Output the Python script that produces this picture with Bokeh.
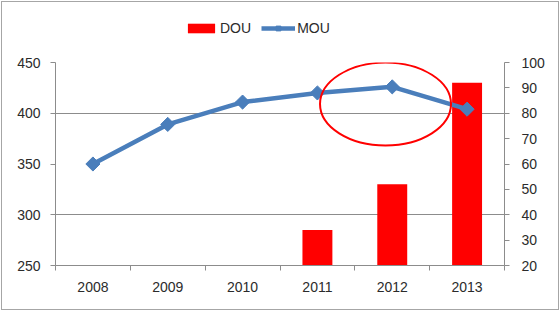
from bokeh.plotting import figure
from bokeh.layouts import column
from bokeh.models import (Range1d, LinearAxis, FixedTicker, Legend, LegendItem)
from bokeh.embed import file_html
from bokeh.resources import INLINE
import math

# ---- data ----
years = ["2008", "2009", "2010", "2011", "2012", "2013"]
mou = [350, 389, 411, 420, 426, 404]          # left axis (line)
dou = [None, None, None, 34, 52, 92]          # right axis (bars)
left_ticks = [250, 300, 350, 400, 450]
right_ticks = [20, 30, 40, 50, 60, 70, 80, 90, 100]
highlight_year = "2012"

FONT = "Liberation Sans"
TXT = "#2b2b2b"
AX = "#8c8c8c"
RED = "#ff0000"
BLUE = "#4a7ebb"

xs = [i + 0.5 for i in range(len(years))]

# ---- main chart ----
p = figure(width=556, height=267, output_backend="svg", toolbar_location=None,
           x_range=Range1d(0, len(years)), y_range=Range1d(250, 450),
           min_border_left=53, min_border_right=54, min_border_top=20, min_border_bottom=44)
p.outline_line_color = None
p.background_fill_color = "white"
p.border_fill_color = "white"
p.extra_y_ranges = {"dou": Range1d(20, 100)}

xa = p.xaxis[0]
xa.ticker = FixedTicker(ticks=xs, minor_ticks=list(range(len(years) + 1)))
xa.major_label_overrides = {x: y for x, y in zip(xs, years)}
xa.major_tick_out = 0
xa.major_tick_in = 0
xa.minor_tick_out = 5
xa.minor_tick_in = 0
xa.minor_tick_line_color = AX
xa.axis_line_color = AX
xa.major_label_standoff = 11

ya = p.yaxis[0]
ya.ticker = FixedTicker(ticks=left_ticks)
ya.major_tick_out = 5
ya.major_tick_in = 0
ya.minor_tick_line_color = None
ya.axis_line_color = AX
ya.major_tick_line_color = AX
ya.major_label_standoff = 10

ra = LinearAxis(y_range_name="dou", ticker=FixedTicker(ticks=right_ticks))
ra.major_tick_out = 5
ra.major_tick_in = 0
ra.minor_tick_line_color = None
ra.axis_line_color = AX
ra.major_tick_line_color = AX
ra.major_label_standoff = 12
p.add_layout(ra, "right")

for a in (xa, ya, ra):
    a.major_label_text_font = FONT
    a.major_label_text_font_size = "14px"
    a.major_label_text_color = TXT

p.xgrid.grid_line_color = None
p.ygrid[0].ticker = FixedTicker(ticks=[300, 400, 450])
p.ygrid.grid_line_color = AX
p.ygrid.grid_line_width = 1

bx = [x for x, d in zip(xs, dou) if d is not None]
bt = [d for d in dou if d is not None]
p.vbar(x=bx, top=bt, bottom=20, width=0.4, y_range_name="dou",
       fill_color=RED, line_color=None)
p.line(xs, mou, line_color=BLUE, line_width=4.5)
p.scatter(xs, mou, marker="square", angle=math.pi / 4, size=10,
          fill_color=BLUE, line_color=BLUE)

hi = years.index(highlight_year)
p.ellipse(x=[xs[hi] - 0.09], y=[mou[hi] - 17], width=131, height=83,
          width_units="screen", height_units="screen",
          fill_color=None, line_color=RED, line_width=2)

# ---- legend strip (keys only; its proxy glyphs sit outside the visible range) ----
lg = figure(width=556, height=40, output_backend="svg", toolbar_location=None,
            x_range=Range1d(0, 1), y_range=Range1d(0, 1),
            min_border_left=0, min_border_right=0, min_border_top=0, min_border_bottom=0)
lg.axis.visible = False
lg.grid.visible = False
lg.outline_line_color = None
lg.border_fill_color = "white"
off = [-10]
r_bar = lg.vbar(x=off, top=off, bottom=off, width=0.4, fill_color=RED, line_color=None)
r_line = lg.line(x=off, y=off, line_color=BLUE, line_width=4.5)
r_mk = lg.scatter(x=off, y=off, marker="square", angle=math.pi / 4, size=11,
                  fill_color=BLUE, line_color=BLUE)
legend = Legend(items=[LegendItem(label="DOU", renderers=[r_bar]),
                       LegendItem(label="MOU", renderers=[r_line, r_mk])],
                orientation="horizontal", location=(129, 6),
                glyph_width=34, glyph_height=12, label_standoff=2, spacing=10,
                padding=0, margin=0, border_line_color=None,
                background_fill_alpha=0,
                label_text_font=FONT, label_text_font_size="14px",
                label_text_color=TXT)
lg.add_layout(legend, "center")

layout = column(lg, p, spacing=0)
layout.styles = {"border": "1px solid #a6a6a6", "margin": "1px"}

open("out.html", "w").write(file_html(layout, INLINE))
